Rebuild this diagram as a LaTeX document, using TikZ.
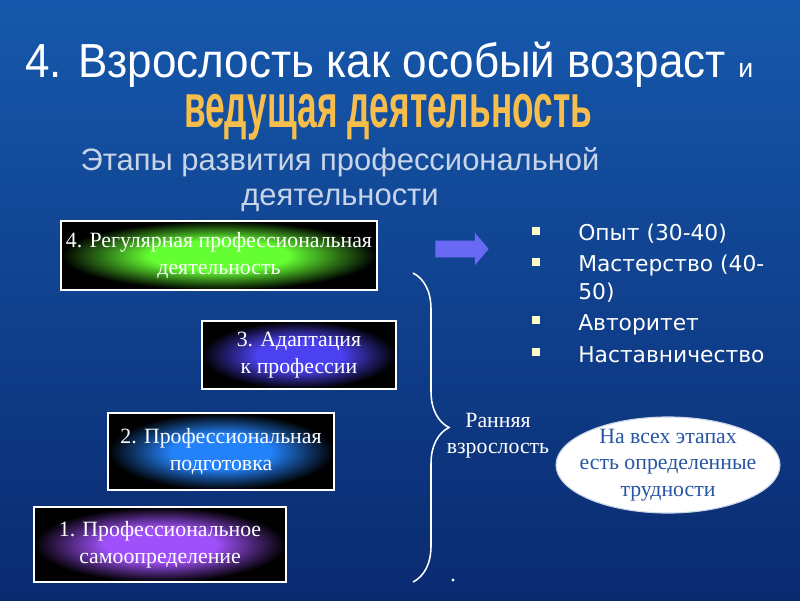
\documentclass[tikz,border=0pt]{standalone}
\usepackage{fontspec}
\setmainfont{Liberation Serif}
\newfontfamily\arialfont{Liberation Sans}
\newfontfamily\verdfont{DejaVu Sans}
\usepackage{tikz}
\usetikzlibrary{shapes,arrows,decorations.pathreplacing,positioning}
\tikzset{>=stealth'}
\definecolor{bgtop}{RGB}{22,88,172}
\definecolor{bgbot}{RGB}{10,42,112}
\definecolor{stgreen}{RGB}{100,255,50}
\definecolor{stindigo}{RGB}{75,65,240}
\definecolor{stblue}{RGB}{35,130,250}
\definecolor{stviolet}{RGB}{160,80,250}
\definecolor{subgold}{RGB}{248,190,75}
\definecolor{headgray}{RGB}{200,212,232}
\definecolor{ovaltext}{RGB}{40,85,165}
\definecolor{arrowblue}{RGB}{105,105,245}
\definecolor{bulletyel}{RGB}{250,250,200}
\newcommand{\stageshade}[1]{%
  \pgfdeclareradialshading{sh#1}{\pgfpoint{0bp}{0bp}}%
    {color(0bp)=(#1); color(11bp)=(#1); color(25bp)=(black); color(50bp)=(black)}}
\stageshade{stgreen}
\stageshade{stindigo}
\stageshade{stblue}
\stageshade{stviolet}

\begin{document}
\begin{tikzpicture}[x=0.025cm,y=-0.025cm,
              stage/.style={draw=white, line width=1.4pt, text=white, align=center,
                            font=\fontsize{15.5}{19.5}\selectfont, shading=sh#1},
              side/.style={text=white, align=center, font=\fontsize{15.5}{18.5}\selectfont},
              item/.style={text=white, anchor=base west, inner sep=0pt,
                           font=\verdfont\fontsize{15.5}{18}\selectfont},
              bullet/.style={fill=bulletyel, minimum size=5.5pt, inner sep=0pt},
             ]
% background
\shade[top color=bgtop, bottom color=bgbot] (0,0) rectangle (800,600);
\useasboundingbox (0,0) rectangle (800,600);

% titles
\node[anchor=base west, inner sep=0pt, text=white, xscale=0.92, text depth=0.1em,
      font=\arialfont\fontsize{34}{36}\selectfont]
  (title) at (25,77) {4. Взрослость как особый возраст};
\node[anchor=base west, inner sep=0pt, text=white, font=\arialfont\fontsize{19}{22}\selectfont]
  (and) at (738,77) {и};
\node[anchor=base, inner sep=0pt, text=subgold, xscale=0.57, text height=0.55em, text depth=0.2em,
      font=\arialfont\bfseries\fontsize{44}{46}\selectfont]
  (lead) at (388,127) {ведущая деятельность};
\node[anchor=base, inner sep=0pt, text=headgray, font=\arialfont\fontsize{22}{25}\selectfont]
  (stages1) at (340,170) {Этапы развития профессиональной};
\node[anchor=base, inner sep=0pt, text=headgray, font=\arialfont\fontsize{22}{25}\selectfont]
  (stages2) at (340,205) {деятельности};

% stages
\node[stage=stgreen, minimum width=7.85cm, minimum height=1.725cm]
  (st4) at (219,255.5) {4. Регулярная профессиональная\\деятельность};
\node[stage=stindigo, minimum width=4.85cm, minimum height=1.7cm]
  (st3) at (299,355) {3. Адаптация\\к профессии};
\node[stage=stblue, minimum width=5.65cm, minimum height=1.925cm]
  (st2) at (221,451.5) {2. Профессиональная\\подготовка};
\node[stage=stviolet, minimum width=6.3cm, minimum height=1.875cm]
  (st1) at (160,544.5) {1. Профессиональное\\самоопределение};

% arrow and list
\node[single arrow, fill=arrowblue, inner sep=0.2cm, minimum height=1.33cm,
      single arrow head extend=0.2cm, single arrow tip angle=100] (next) at (458.5,249) {};
\node[bullet] (b1) at (536,231) {};
\node[bullet] (b2) at (536,262) {};
\node[bullet] (b3) at (536,320) {};
\node[bullet] (b4) at (536,352) {};
\node[item] (i1) at (578,240) {Опыт (30-40)};
\node[item] (i2) at (578,271) {Мастерство (40-};
\node[item] (i2b) at (578,299) {50)};
\node[item] (i3) at (578,330) {Авторитет};
\node[item] (i4) at (578,362) {Наставничество};

% brace
\coordinate (brtop) at (413,273);
\coordinate (brbot) at (413,582);
\draw[white, line width=1.1pt, decorate, decoration={brace, amplitude=0.9cm}] (brtop) -- (brbot);
\node[side] (early) at (498,436) {Ранняя\\взрослость};
\fill[white] (453,580) circle (1.2pt);

% oval
\node[ellipse, fill=white, draw=headgray, line width=0.8pt, minimum width=5.55cm, minimum height=2.4cm,
      text=ovaltext, align=center, inner xsep=-6.5pt, inner ysep=-4pt, font=\fontsize{15.5}{19}\selectfont]
  (note) at (668,465) {На всех этапах\\есть определенные\\трудности};
\end{tikzpicture}
\end{document}
